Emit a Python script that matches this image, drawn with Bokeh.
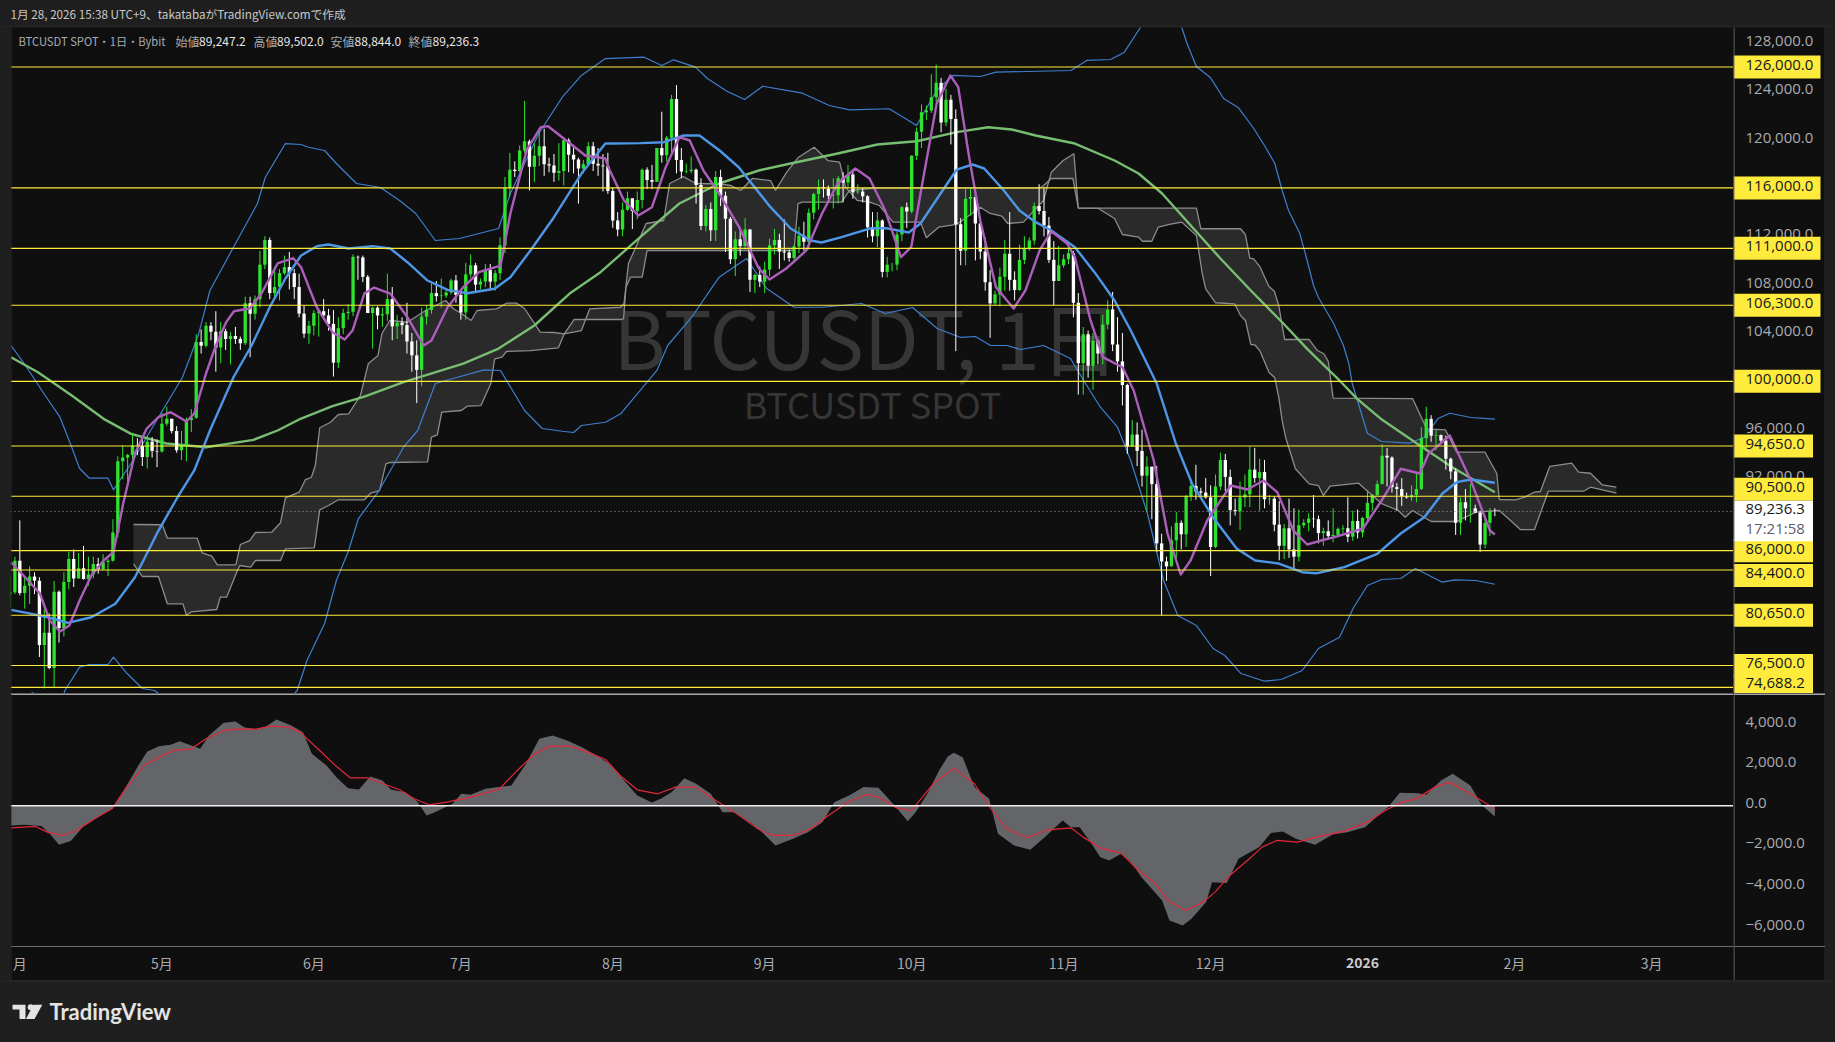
from bokeh.core.properties import value
from bokeh.embed import file_html
from bokeh.layouts import column, row
from bokeh.models import ColumnDataSource, GlobalInlineStyleSheet, Label, Range1d, Span
from bokeh.plotting import figure
from bokeh.resources import INLINE

############################
#     BTCUSDT daily data   #
############################

# day 0 = 2025-04-01, first candle is 03-31
first_day = -1
first_open = 82400

closes = [
    82550,
    85170, 82500, 83100, 83850, 83500, 78200, 79200, 76300, 82600, 79600, 83400, 85300, 83700, 84550, 83650,
    84030, 84900, 84450, 85050, 85170, 87500, 93400, 93700, 93900, 94700, 94650, 93750, 95000, 94250, 94200,
    96500, 96900, 95900, 94300, 94750, 96800, 97000, 103250, 102950, 104600, 104100, 102800, 104150, 103500, 103750, 103500,
    103150, 106450, 105600, 106800, 109650, 111700, 107300, 107800, 108950, 109450, 108950, 107800, 105600, 103950, 104600,
    105650, 105800, 105450, 104750, 101550, 104400, 105650, 105750, 110300, 110250, 108650, 105650, 106100, 105450, 105550,
    106800, 104550, 104850, 104650, 103300, 102150, 100950, 105350, 105900, 107300, 107050, 107100, 107350, 108350, 107150,
    105700, 108850, 109600, 108000, 108250, 109200, 108250, 108950, 111250, 116000, 117500, 117400, 119100, 119850, 117750, 118650,
    119450, 117950, 117850, 117250, 117400, 119950, 118750, 118350, 117600, 117950, 119450, 118000, 117850, 117800, 115750,
    113300, 112550, 114200, 115150, 114100, 115000, 117500, 116650, 116500, 119300, 118700, 120150, 123350, 118300, 117350, 117400,
    117500, 116250, 112850, 114250, 112500, 116900, 115350, 113450, 110100, 111750, 111200, 112550, 108400, 108800, 108250,
    109250, 111250, 111700, 110750, 110650, 110200, 111150, 112050, 111550, 113950, 115500, 116050, 115950, 115350, 115400,
    116800, 116450, 117100, 115650, 115700, 115300, 112750, 112000, 113300, 109050, 109650, 109650, 112150, 114400, 114050,
    118650, 120650, 122250, 122400, 123500, 124700, 121400, 123300, 121700, 113000, 110800, 115100, 115250, 113050, 110750, 108200,
    106450, 107200, 108650, 110550, 108400, 107550, 110050, 111000, 111650, 114500, 114100, 112900, 110050, 108300, 109600,
    110100, 110600, 106500, 101500, 103900, 101300, 103350, 102300, 104700, 105950, 103050, 101650, 99700, 94600, 95600,
    94250, 92200, 92950, 91500, 86600, 85100, 84700, 86850, 88300, 87350, 90500, 91350, 90900, 90800, 90400,
    86300, 91300, 93500, 92100, 89350, 89250, 90400, 90650, 92700, 92000, 92500, 90250, 90300, 88150, 86400, 87850,
    86100, 85500, 88100, 88300, 88650, 88600, 87450, 87600, 87200, 87300, 87800, 87850, 87150, 88450, 87500,
    88700, 89950, 90600, 91500, 93850, 93700, 91250, 91100, 90500, 90400, 90600, 91100, 95300, 96900, 95500, 95550,
    95100, 93600, 92550, 88300, 90000, 89500, 89500, 89150, 86500, 88300, 89247.2, 89236.3,
]

highs = [
    83900,
    85500, 88500, 83900, 84700, 84200, 83800, 81200, 80800, 83500, 82700, 84200, 85900, 86100, 85800, 86400,
    85500, 85500, 85400, 85700, 85300, 88600, 93800, 94700, 94000, 95700, 95300, 95300, 95500, 95400, 95200,
    97400, 97900, 96900, 96300, 95900, 97000, 97700, 103900, 104300, 104900, 104900, 105800, 104900, 104350, 104100, 104500,
    103700, 107000, 107000, 107100, 110800, 112000, 111900, 109500, 109300, 110400, 110700, 109300, 108900, 106300, 105000,
    105900, 105950, 106800, 106000, 105900, 105300, 106000, 106400, 110500, 110400, 110400, 108800, 106200, 106200, 106100,
    108900, 107800, 105500, 105300, 106500, 104000, 103400, 106100, 106300, 108100, 108300, 108500, 107600, 108500, 108800,
    107500, 109800, 110500, 109800, 108500, 109700, 109700, 109200, 111900, 116900, 118900, 118200, 119500, 123200, 120000, 119700,
    120900, 120900, 118500, 118800, 119700, 120200, 120100, 119500, 118500, 118300, 119800, 119800, 119300, 118800, 118900,
    116000, 114000, 114800, 115700, 115100, 115700, 117600, 117700, 117900, 119300, 122300, 120300, 123700, 124500, 119300, 118000,
    118600, 117600, 116800, 114600, 114800, 117400, 117500, 115700, 113600, 112400, 112600, 113500, 112600, 108900, 109500,
    109900, 111800, 112600, 112200, 113400, 110900, 111300, 112800, 113200, 114300, 115600, 116700, 116700, 116200, 116800,
    117000, 117300, 117900, 117500, 116300, 116000, 115400, 114000, 114000, 113400, 110300, 109800, 112400, 114500, 114800,
    118700, 121000, 122900, 122800, 125400, 126200, 125100, 124200, 123700, 122500, 113500, 115900, 115900, 115600, 113600, 111900,
    109200, 107500, 109400, 111700, 114000, 109100, 111300, 112000, 111900, 114800, 116300, 116000, 113600, 111600, 111200,
    110500, 111200, 110800, 107300, 104500, 104200, 104000, 103500, 105500, 106700, 107400, 105300, 104000, 99800, 96800,
    96600, 96000, 93800, 92700, 93000, 87400, 85500, 88000, 89200, 88500, 90600, 91900, 93100, 91200, 92000,
    91400, 92300, 94100, 94000, 92700, 90300, 91700, 92300, 94600, 94500, 93600, 93500, 90600, 90500, 90100, 88200,
    90300, 89500, 89400, 88600, 89100, 90600, 88900, 87900, 88500, 89500, 87900, 88100, 90400, 89300, 89400,
    88800, 90900, 90700, 91800, 94800, 94500, 93800, 91600, 92000, 90800, 91400, 92400, 96200, 97900, 97200, 96000,
    95600, 95500, 93700, 92800, 90400, 91100, 91500, 89800, 89300, 88900, 89500, 89502,
]

lows = [
    81300,
    82400, 82300, 81200, 81600, 82400, 77200, 74600, 76200, 74700, 78400, 78900, 82800, 83000, 83700, 83600,
    83100, 83700, 84100, 84400, 83900, 85100, 87100, 91900, 91600, 92800, 93900, 93000, 92800, 93700, 92900,
    94100, 96300, 95700, 94100, 93500, 93400, 95800, 96900, 102300, 102800, 103400, 100800, 101500, 102600, 101400, 103100,
    102600, 103000, 102000, 105100, 106100, 109300, 106800, 106900, 106700, 108800, 107600, 106800, 105300, 103600, 103100,
    103800, 103700, 105100, 104200, 100400, 101100, 103900, 105100, 105400, 108400, 108200, 105700, 102700, 104300, 104500,
    105000, 103400, 103500, 103900, 102300, 100800, 98200, 99600, 104700, 105600, 106600, 106100, 106900, 107200, 106500,
    105100, 105100, 108600, 107300, 107600, 107800, 107500, 107500, 108400, 110600, 115300, 116900, 117300, 118900, 115800, 116500,
    117800, 117000, 117300, 116500, 116600, 116200, 117300, 117200, 114700, 117200, 117800, 117400, 117000, 115700, 115500,
    112700, 112000, 112000, 114100, 112600, 113400, 114300, 115900, 115900, 116500, 118100, 118200, 118900, 117200, 116800, 117200,
    117200, 114700, 112500, 112400, 111600, 111600, 114500, 110700, 109700, 108700, 110400, 110900, 107400, 107300, 107800,
    107300, 108700, 110500, 109300, 110000, 109900, 110000, 110600, 110800, 110900, 113400, 114200, 115200, 114800, 114300,
    114700, 114800, 116000, 115100, 115500, 114800, 111900, 111500, 111100, 108600, 108600, 109100, 109200, 111600, 112700,
    113900, 118300, 119300, 121600, 122200, 123100, 120600, 121100, 119600, 102500, 109600, 109600, 113700, 110000, 110100, 107500,
    103600, 106300, 106200, 107500, 107500, 106700, 107500, 109700, 110800, 111300, 113800, 112000, 109800, 106300, 108300,
    109400, 109700, 105300, 98900, 98900, 100300, 99300, 101400, 101400, 104300, 102500, 100800, 98000, 94000, 94600,
    93000, 91300, 89300, 88600, 85900, 80650, 83500, 84700, 85300, 86100, 86300, 90100, 90200, 90300, 90300,
    83900, 86200, 91000, 90900, 88100, 88900, 87700, 89600, 89600, 91600, 89300, 89500, 89800, 87600, 85200, 85300,
    85400, 84500, 85100, 87900, 87600, 87900, 86600, 86400, 86900, 86700, 87200, 87400, 86700, 86800, 87000,
    87100, 88300, 89300, 90500, 91500, 91300, 90800, 89300, 89700, 90300, 90100, 90000, 91000, 94500, 95000, 94300,
    94900, 92700, 91900, 87300, 87300, 88500, 88300, 89100, 85900, 86200, 87200, 88844,
]

bb_mid_days = [-0.8, 2.7, 6.7, 10.8, 15.6, 20.5, 24.5, 29.3, 33.4, 36.6, 39.8, 44.6, 48.3, 52, 55.2, 58.4, 61.6, 64,
               68.1, 73, 76.6, 80.1, 84.2, 88.3, 92.3, 97.9, 101.1, 105.2, 110, 115.6, 120.5, 122, 127.7, 132.4,
               136.5, 139.7, 143.8, 147.7, 154.2, 158.3, 162.4, 164.6, 168.7, 174.4, 177.7, 182.4, 184.8, 188.9,
               192.2, 195.4, 197.8, 201.8, 205, 208.3, 211.5, 216.3, 220.3, 224.4, 227.7, 233, 236.9, 240.2, 244.5,
               249.3, 253.1, 257.9, 262.7, 265.6, 271.3, 278, 282.8, 287.6, 291.3, 294.2, 297.1, 302]
bb_mid = [81105, 80825, 80490, 80030, 80490, 81600, 83800, 87660, 90560, 92630, 95935, 100340, 102965, 106130, 108505,
          110410, 111180, 111320, 110990, 111180, 110990, 109855, 108340, 107570, 107290, 107655, 108615, 110825,
          113575, 117190, 119670, 119670, 119700, 119780, 120335, 120335, 119095, 117710, 114405, 112640, 111650,
          111485, 111925, 112640, 112670, 112310, 113055, 115535, 117520, 117935, 117605, 115785, 114130, 113165,
          112475, 111095, 109030, 106685, 104205, 99820, 94860, 91550, 88765, 86175, 85185, 84935, 84215, 84130,
          84630, 85735, 87415, 88765, 90725, 91660, 91880, 91610]

bb_upper_days = [-0.8, 1.9, 5.9, 9.2, 11.6, 13.2, 15.2, 19, 20.1, 23.7, 29.3, 34.2, 37.4, 39.8, 44.6, 49.5, 51.1, 55.2,
                 58.4, 59.9, 63.2, 65.6, 69.7, 74.6, 78.5, 81.8, 85.8, 90.7, 93.9, 98.7, 101.1, 106.9, 111.7, 115.6,
                 120.5, 128.4, 132, 134.4, 138.9, 141.3, 145.3, 148.9, 152.6, 160.7, 166.2, 170.3, 178.4, 181.7, 184,
                 188.1, 191.4, 197, 200.2, 215.5, 218.7, 223.6, 226.4, 229.7, 233, 236, 238.1, 239.2, 241.1, 244,
                 246.7, 249.7, 252.8, 255.2, 257.1, 258.6, 259.9, 262.2, 263.7, 265, 266, 269.1, 271.1, 272.2, 272.9,
                 275.2, 276, 278.9, 284.6, 287.6, 290.4, 292.8, 297.1, 302]
bb_upper = [102965, 101475, 98995, 97035, 94555, 92790, 91990, 91990, 91030, 93205, 97035, 100340, 103790, 107515,
            111095, 114710, 116885, 119670, 119590, 119365, 119095, 118020, 116365, 116035, 114960, 113885, 111650,
            111815, 112145, 112640, 115535, 120500, 123500, 125300, 126700, 126810, 126125, 126595, 125985, 125050,
            124000, 123310, 124410, 123835, 122815, 122460, 122545, 121740, 121160, 124055, 125300, 125215, 125570,
            125710, 126540, 126620, 127225, 129290, 131000, 131000, 129290, 127920, 126040, 125105, 123370, 122625,
            120915, 119365, 118020, 115785, 114130, 112230, 109995, 107930, 106935, 104785, 102965, 101475, 99820,
            96760, 95685, 95025, 94885, 95380, 96925, 97365, 97010, 96870]

bb_lower_days = [-1, 3.6, 6, 9.5, 10.2, 13.2, 15.2, 19, 20.1, 22.9, 26, 28.5, 29.9, 40, 50, 57.6, 59.6, 63.2, 65.6, 68.1,
                 70.1, 74.1, 79.3, 82.2, 85.8, 89.4, 95.8, 99.1, 104, 107.6, 111.7, 114, 115.6, 120.5, 123.6, 131,
                 133.2, 138.1, 143.7, 149.3, 153.4, 159, 164.7, 172.8, 177.6, 183.2, 188.2, 193, 196, 199.1, 202.5,
                 205.2, 209.9, 215.4, 218.1, 221.5, 225, 227.7, 231.1, 234.4, 237.3, 241.1, 244.5, 246.9, 250.2, 255,
                 258.4, 262.7, 266, 270.3, 273.2, 276, 278.9, 282.8, 285.8, 291.3, 293.8, 298.1, 302]
bb_lower = [73300, 74250, 73800, 73500, 74430, 76360, 76580, 76580, 77185, 75835, 74595, 74430, 74000, 70000, 71000,
            74430, 76910, 79970, 83530, 86010, 88655, 90830, 94555, 95935, 99820, 100235, 100955, 100900, 97590, 96100,
            95875, 95770, 96350, 96620, 97315, 100900, 102965, 105305, 108615, 110160, 107680, 106130, 106130, 106440,
            105610, 106110, 104370, 103630, 103710, 102965, 102965, 102635, 102965, 101890, 100070, 97860, 96210,
            93455, 89070, 83530, 80635, 79805, 77905, 77325, 75835, 75200, 75340, 76085, 77905, 78840, 81320, 83115,
            83610, 83695, 84520, 83390, 83585, 83530, 83220]

ma_long_days = [-0.8, 4.7, 11.6, 18.1, 23.7, 30.9, 39, 48.7, 53.6, 58.4, 64.8, 71.3, 79.3, 91.5, 98.7, 106, 113.2, 119.5,
                127.6, 135.6, 143.7, 151.8, 158.3, 167.9, 176, 184, 192.2, 198.6, 203.4, 208.3, 216.3, 224.4, 229.3,
                234.1, 240.5, 246, 252.2, 258.6, 263.7, 270.5, 273.9, 279, 286.7, 293.3, 302]
ma_long = [102000, 100755, 98830, 96900, 95660, 94860, 94555, 95165, 95935, 96925, 97945, 98745, 99930, 101475, 102715,
           104620, 107265, 109030, 111925, 114710, 116365, 117440, 118020, 118845, 119590, 119860, 120610, 121020,
           120830, 120335, 119670, 118265, 117190, 115535, 112640, 110160, 107515, 104890, 102690, 99990, 98555, 96820,
           94695, 92900, 90830]

ma_fast_days = [-0.8, 2.7, 5.1, 7.1, 9.2, 11.1, 13.2, 15.6, 18.1, 20.1, 22.1, 24.5, 26.9, 29.3, 31.8, 35, 36.6, 39, 41,
                43.1, 44.7, 47.9, 50.3, 53.6, 56.8, 58.4, 61.6, 64.8, 67.3, 68.9, 71.3, 73.3, 76.6, 80.1, 83.4, 85,
                88.3, 91.5, 94.7, 99.1, 101.1, 104.4, 107.3, 108.8, 113.3, 116.4, 120.5, 121.1, 124.3, 127.2, 130,
                132.8, 135.6, 137.7, 140.5, 143.7, 147.8, 151.8, 154, 157.4, 161.5, 164.7, 167.9, 171.5, 174.4, 177.6,
                180.8, 182.9, 184.8, 188.1, 190.9, 192.5, 194.6, 197, 200.2, 203.8, 206.2, 209.1, 211.5, 214.7, 216.3,
                219.5, 222, 226, 228.3, 232.4, 235.2, 237.9, 239.9, 243.3, 248.1, 251.5, 254.8, 257.6, 260.9, 263.7,
                266.5, 269.3, 275.1, 278.9, 282.8, 286.7, 288.5, 292.8, 297.1, 301, 302]
ma_fast = [85040, 83530, 82455, 80220, 79310, 79805, 81875, 83940, 85185, 85870, 89895, 94030, 96100, 97035, 97450,
           96680, 97340, 100650, 102965, 104890, 105800, 106025, 107265, 109750, 110185, 109440, 106130, 104065,
           103460, 104205, 107265, 107760, 107265, 105305, 102965, 103380, 106130, 107785, 109030, 109580, 113885,
           119095, 121020, 121105, 119670, 118680, 118430, 117710, 114960, 113720, 114405, 117710, 120195, 119920,
           117440, 115535, 112750, 109335, 108425, 109335, 110825, 113885, 116365, 117605, 116780, 114130, 110270,
           111095, 115535, 122980, 125300, 124330, 118845, 113305, 107785, 106025, 107515, 110825, 112420, 111400,
           110270, 105035, 102000, 101170, 99245, 93455, 87415, 84025, 85185, 88490, 91385, 91055, 91800, 90830,
           87660, 86505, 86835, 87110, 87830, 90145, 92770, 92380, 94030, 95520, 91800, 87660, 87330]

span_a_days = [24.2, 30.1, 31.1, 37.2, 38.2, 40.2, 41.3, 45.1, 46, 47.9, 49.1, 52.4, 54.2, 55.2, 58, 59.3, 60.5, 61.3,
               62.2, 64.4, 66, 68.1, 70.5, 72.1, 74.1, 74.9, 76.5, 80.1, 83.8, 87.9, 89.4, 91.1, 93.1, 94.3, 98.3,
               100.3, 102.4, 104, 107.2, 110, 112.1, 115.6, 117.3, 123.6, 124.3, 125.2, 126.4, 128.8, 132.4, 133.6,
               136.4, 138.9, 143.7, 146.1, 148.1, 150.5, 154.2, 155.2, 157.5, 159.9, 163.1, 165.9, 168.3, 169.5,
               171.9, 174.4, 176.4, 179.2, 184.8, 186, 188.5, 192.2, 197, 199, 201.4, 202.6, 205.8, 209.9, 211.5,
               213.9, 216.1, 217, 221.1, 224.4, 226, 229.3, 230.1, 232, 233.3, 235.6, 238.1, 241.1, 242.3, 243, 245,
               248.9, 250.1, 251.1, 252.2, 253, 254.1, 255.9, 257.1, 257.9, 258.6, 259.3, 261.3, 264.1, 266, 267,
               268.4, 274.2, 276.6, 278.9, 282.3, 283.7, 285.2, 289, 294.2, 298.1, 302.9, 304.8, 307.2, 310.1, 312.9,
               320.1, 321.5, 326.8]
span_a = [88160, 88140, 87030, 87030, 85820, 85540, 84825, 84825, 86505, 86835, 87500, 87525, 88300, 90370, 90830, 91880,
          92070, 93040, 96160, 96620, 97260, 97315, 98830, 101450, 102140, 103960, 105035, 104890, 105860, 106685,
          106025, 105610, 105035, 105860, 106000, 106465, 106465, 106025, 104065, 104040, 103930, 104205, 106000,
          106130, 106440, 109750, 110825, 113055, 113305, 116365, 116945, 116365, 116340, 116200, 115785, 116780,
          116610, 115785, 117300, 118540, 119365, 118265, 118125, 116060, 114960, 114820, 114545, 113165, 113165,
          111875, 112750, 112975, 114405, 113885, 113660, 113055, 113165, 114960, 117300, 118265, 118820, 114320,
          114300, 113470, 112145, 111925, 111590, 111590, 112750, 112975, 113170, 112065, 108895, 107655, 106500,
          106415, 105445, 105035, 103050, 103025, 102495, 100755, 100295, 98690, 96760, 95380, 92770, 91525, 91385,
          90560, 91330, 91575, 90700, 89895, 89320, 88765, 89320, 88410, 88410, 89180, 89320, 88630, 87745, 87745,
          90915, 90915, 91245, 90750]

span_b_days = [24.2, 26, 29.3, 31.1, 34.3, 35, 36, 41.2, 41.9, 43.2, 45.4, 45.9, 48.1, 49.1, 54.2, 55.2, 61.1, 62.2, 64,
               66, 71.3, 72.6, 74.4, 75.7, 76.6, 84.2, 85, 86.2, 87.1, 91.1, 92.3, 95.1, 97.1, 97.9, 99.4, 100.3,
               105.2, 110.9, 112.1, 114.1, 123.6, 124.2, 124.7, 125.6, 128, 129, 159, 159.8, 160.7, 168.7, 170.3,
               174.4, 176, 209.1, 209.9, 211.5, 215.9, 217, 241.1, 242, 250.1, 251.1, 252, 252.8, 254.1, 255.9, 257,
               257.9, 259.1, 264.1, 265.8, 267.1, 268, 269, 285.2, 288.1, 291.9, 294.2, 300, 302.4, 302.9, 306.2,
               308.1, 310, 311.3, 313.2, 317.7, 319.1, 321.5, 323.9, 326.8]
span_b = [84910, 83860, 83860, 81600, 81600, 80660, 80940, 81130, 82150, 82150, 84355, 84770, 84630, 85185, 85185, 86150,
          86235, 89375, 89730, 90205, 90205, 90750, 90970, 93180, 93290, 93345, 95380, 95580, 97450, 97590, 97945,
          98000, 99800, 101865, 102000, 102470, 102550, 102775, 103930, 105115, 105115, 105175, 107785, 108615,
          108615, 110825, 110825, 114710, 114820, 114820, 115785, 115950, 115975, 115975, 116200, 116780, 116780,
          114320, 114320, 112620, 112620, 112145, 110185, 110135, 109440, 107845, 107455, 106275, 103460, 103460,
          102550, 102280, 101665, 98610, 98580, 96075, 95995, 94140, 94140, 92380, 90230, 90205, 90420, 90830, 90890,
          92960, 93230, 92485, 92400, 91445, 91245]

macd_days = [-0.8, 2, 5.4, 7.2, 9, 11.4, 13.8, 16.8, 19.8, 21, 22.8, 25.2, 27, 29.4, 31.8, 33.6, 36, 37.8, 39.6, 42.6,
             45, 46.8, 49.2, 51, 53.4, 56.4, 58.8, 60.6, 63.6, 65.6, 68, 70.2, 72.5, 75, 76.7, 79.7, 82.1, 84, 85.7,
             89.3, 91.1, 93, 96, 98.7, 101.3, 104.3, 107, 109.7, 112.7, 115.7, 119.3, 121.7, 124, 127, 130, 131.8,
             134, 136.6, 139, 142, 144.4, 146.8, 150.4, 152.8, 155.2, 158.8, 161.8, 164.8, 167.2, 170.2, 173.2,
             176.2, 179.2, 182.2, 183.8, 186.2, 188.6, 190.4, 191.6, 193.4, 195.8, 198.8, 200.6, 203.9, 207.2, 210.2,
             213.8, 215.5, 217.3, 219.7, 221.5, 223.3, 225.7, 227.5, 229.9, 232.3, 234.1, 235.6, 238.3, 240.1, 243.1,
             244.3, 247.3, 249.7, 251.5, 253.9, 256.3, 258.7, 261.4, 265.3, 268.9, 271.9, 275.5, 277.8, 280.2, 282.6,
             286.2, 288, 291, 293.4, 297, 299.4, 302]
macd = [-969, -936, -1000, -1396, -1921, -1740, -1051, -591, -148, 263, 1002, 1987, 2676, 2939, 3005, 3185, 2972, 2808,
        3465, 4089, 4154, 3875, 3760, 3875, 4253, 3957, 3629, 2562, 1987, 1412, 870, 805, 1445, 1248, 805, 673, 213,
        -476, -312, 99, 591, 542, 837, 920, 1002, 2069, 3300, 3465, 3218, 2890, 2397, 1987, 1330, 509, 164, 345, 673,
        1363, 1084, 591, -312, -312, -887, -1379, -1954, -1626, -1297, -805, 180, 509, 920, 887, 99, -755, -312, 591,
        1740, 2447, 2611, 2397, 920, 345, -1379, -1954, -2167, -1543, -722, -1051, -1051, -1872, -2529, -2693, -2364,
        -2693, -3514, -4171, -4663, -5648, -5895, -5566, -4745, -3760, -3809, -2611, -2364, -2036, -1346, -1264, -1625,
        -1921, -1412, -1297, -1051, -558, -66, 640, 624, 542, 1248, 1576, 1002, 16, -525, -640]

signal_days = [-0.8, 4.2, 6.6, 9.6, 12.6, 16.2, 19.8, 22.8, 26.4, 29.4, 32.4, 36, 39, 42.6, 45.6, 49.2, 52.2, 55.8, 58.2,
               61.8, 65.4, 68.4, 71.9, 78.5, 81.5, 84.5, 88.1, 93, 98.9, 102.5, 106.1, 109.1, 113.3, 116.9, 120.5, 123.5,
               127, 131.2, 134.8, 139, 142, 146.8, 151.6, 154.6, 158.8, 162.4, 166, 170.2, 173.8, 176.2, 179.8, 182.8,
               183.8, 187.4, 191.6, 195.8, 199.4, 202.4, 206.6, 210.8, 215.5, 218, 221.5, 225.7, 229.3, 232.7, 235.3,
               238.9, 242.5, 244.9, 247.9, 251.5, 254.5, 257.5, 261.7, 266.5, 271.3, 276, 279.6, 282.6, 286.2, 289.8,
               292.8, 297, 302]
signal = [-1084, -1018, -1297, -1461, -1215, -640, -148, 920, 1987, 2397, 2726, 2808, 3300, 3711, 3793, 3777, 3924, 3875,
          3629, 2808, 1987, 1379, 1379, 788, 345, 49, 181, 427, 837, 1741, 2562, 2939, 2939, 2644, 2282, 1494, 788, 591,
          920, 920, 427, -312, -1133, -1461, -1461, -1133, -476, 213, 558, 427, -99, -230, 16, 1084, 1855, 1084, -230,
          -1133, -1576, -1182, -1084, -1543, -2069, -2332, -3185, -3842, -4663, -5156, -4745, -4253, -3432, -2693, -2036,
          -1708, -1790, -1494, -1248, -805, -230, 131, 378, 920, 1166, 591, -148]

level_prices = [126000, 116000, 111000, 106300, 100000, 94650, 90500, 86000, 84400, 80650, 76500, 74688.2]
level_texts = ["126,000.0", "116,000.0", "111,000.0", "106,300.0", "100,000.0", "94,650.0", "90,500.0", "86,000.0",
               "84,400.0", "80,650.0", "76,500.0", "74,688.2"]
# where each price tag sits on the scale: tags around the last price are pushed aside
tag_prices = [126000, 116000, 111000, 106300, 100000, 94650, 91080, 86000, 83945, 80650, 76500, 74888]
last_price = 89236.3
last_tag_center = 88450
price_ticks = [128000, 124000, 120000, 112000, 108000, 104000, 96000, 92000]
macd_ticks = [4000, 2000, 0, -2000, -4000, -6000]
month_days = [1, 30, 61, 91, 122, 153, 183, 214, 244, 306, 334]
month_names = ["月", "5月", "6月", "7月", "8月", "9月", "10月", "11月", "12月", "2月", "3月"]
year_day = 275

BG = "#1f1f1f"
PANE = "#0f0f0f"
GRAY = "#a9abb2"
SEP = "#6f6f6f"
EDGE = "#2e2e2e"
JP = "Noto Sans CJK JP"
NUM = "Open Sans"

X_RANGE = (-0.9, 350.7)
MAIN_Y = Range1d(74183, 129267)
SUB_Y = (-8606, 5532)
SUB_TIME_LINE = -6931
SUB_TIME_TEXT = -7818


def pane(width, height, x_range, y_range, left=0, right=0, bg=PANE):
    p = figure(width=width, height=height, x_range=x_range, y_range=y_range, x_axis_location=None,
               y_axis_location=None, toolbar_location=None, output_backend="svg", background_fill_color=bg,
               border_fill_color=bg, outline_line_color=None, min_border=0, margin=(0, right, 0, left))
    p.grid.visible = False
    return p


def screen_label(p, x, y, text, font, size, color, **kw):
    p.add_layout(Label(x=x, y=y, x_units="screen", y_units="screen", text=text, text_font=font,
                       text_font_size=size, text_color=color, text_baseline="middle", **kw))


def edge(p, location, dimension="height", color=EDGE):
    p.add_layout(Span(location=location, dimension=dimension, line_color=color, line_width=1))


############################
#         top pane         #
############################

days = [first_day + i for i in range(len(closes))]
opens = [first_open] + closes[:-1]
candles = ColumnDataSource(dict(
    x=days, open=opens, close=closes, high=highs, low=lows,
    color=["#2fe22f" if c >= o else "#ffffff" for o, c in zip(opens, closes)],
))

main = pane(1723, 666, Range1d(*X_RANGE), MAIN_Y, left=10)

screen_label(main, 856, 693 - 334, "BTCUSDT, 1日", JP, "80px", "#363636", text_align="center", level="underlay")
screen_label(main, 862, 693 - 402, "BTCUSDT SPOT", JP, "36px", "#363636", text_align="center", level="underlay")

main.patch(span_a_days + span_b_days[::-1], span_a + span_b[::-1], color="#2a2a2a", line_color=None)
main.line(span_a_days, span_a, color="#8c8c8c", line_width=1.3)
main.line(span_b_days, span_b, color="#8c8c8c", line_width=1.3)
main.line(bb_upper_days, bb_upper, color="#3f7fd0", line_width=1.2, line_join="round")
main.line(bb_lower_days, bb_lower, color="#3f7fd0", line_width=1.2, line_join="round")
main.line(ma_long_days, ma_long, color="#78bd72", line_width=2.4, line_join="round")

main.segment("x", "low", "x", "high", color="color", line_width=1, source=candles)
main.vbar("x", width=0.68, top="open", bottom="close", fill_color="color", line_color=None, source=candles)

main.line(bb_mid_days, bb_mid, color="#4c97e8", line_width=2.4, line_join="round")
main.line(ma_fast_days, ma_fast, color="#ab5fbb", line_width=2.4, line_join="round")

main.add_layout(Span(location=last_price, dimension="width", line_color="#9c9c9c", line_width=1, line_dash="1 3"))
for price in level_prices:
    main.add_layout(Span(location=price, dimension="width", line_color="#ffeb3b", line_width=1.1))
edge(main, X_RANGE[0] + 0.1)

legend_items = [
    (8, "BTCUSDT SPOT・1日・Bybit", GRAY, "11.2px"), (165, "始値", GRAY, "12px"), (188.5, "89,247.2", "#e6e6e6", "12px"),
    (243, "高値", GRAY, "12px"), (266.5, "89,502.0", "#e6e6e6", "12px"), (320, "安値", GRAY, "12px"),
    (344, "88,844.0", "#e6e6e6", "12px"), (398, "終値", GRAY, "12px"), (422, "89,236.3", "#e6e6e6", "12px"),
]
for lx, text, color, size in legend_items:
    screen_label(main, lx, 693 - 40.5, text, JP, size, color)

# price scale next to the top pane
side = pane(92, 666, Range1d(0, 92), MAIN_Y, right=8)
side.text([12] * len(price_ticks), price_ticks, text=[f"{t:,.1f}" for t in price_ticks], text_font=value(NUM),
          text_font_size="15px", text_color=GRAY, text_baseline="middle", y_offset=-2)
side.rect([87 / 2 if len(t) == 9 else 79.5 / 2 for t in level_texts], tag_prices,
          width=[87 if len(t) == 9 else 79.5 for t in level_texts], height=23, height_units="screen",
          color="#ffeb3b", line_color=None)
side.text([12] * len(tag_prices), tag_prices, text=level_texts, text_font=value(NUM), text_font_size="15px",
          text_color="#131722", text_baseline="middle", y_offset=-2)
side.rect([79.5 / 2], [last_tag_center], width=79.5, height=40.5, height_units="screen", color="#ffffff", line_color=None)
screen_label(side, 12, 693 - 508.7, "89,236.3", NUM, "15px", "#131722")
screen_label(side, 12, 693 - 527.3, "17:21:58", NUM, "15px", "#5d606b")
edge(side, 0.5, color=SEP)
edge(side, 91.5)

############################
#       bottom pane        #
############################

sub = pane(1723, 287, Range1d(*X_RANGE), Range1d(*SUB_Y), left=10)
sub.varea(macd_days, y1=[0] * len(macd), y2=macd, color="#636569")
sub.line(signal_days, signal, color="#e2283c", line_width=1.2, line_join="round")
sub.add_layout(Span(location=0, dimension="width", line_color="#f0f0f0", line_width=1.6))
edge(sub, SUB_TIME_LINE, "width", SEP)
sub.add_layout(Span(location=SUB_Y[1] - 20, dimension="width", line_color="#d8d8d8", line_width=1.5))
sub.text(month_days, [SUB_TIME_TEXT] * len(month_days), text=month_names, text_font=value(JP), text_font_size="14px",
         text_color=GRAY, text_align="center", text_baseline="middle", y_offset=-2)
sub.text([year_day], [SUB_TIME_TEXT], text=["2026"], text_font=value(JP), text_font_size="14px", text_font_style="bold",
         text_color="#c8cad0", text_align="center", text_baseline="middle", y_offset=-2)
edge(sub, X_RANGE[0] + 0.1)

sub_side = pane(92, 287, Range1d(0, 92), Range1d(*SUB_Y), right=8)
sub_side.text([12] * len(macd_ticks), macd_ticks, text=[f"{t:,.1f}".replace("-", "−") for t in macd_ticks],
              text_font=value(NUM), text_font_size="15px", text_color=GRAY, text_baseline="middle", y_offset=-3)
edge(sub_side, 0.5, color=SEP)
edge(sub_side, 91.5)
edge(sub_side, SUB_TIME_LINE, "width", SEP)
sub_side.add_layout(Span(location=SUB_Y[1] - 20, dimension="width", line_color="#d8d8d8", line_width=1.5))

############################
#     header and footer    #
############################

head = pane(1833, 27, Range1d(0, 1833), Range1d(27, 0), bg=BG)
screen_label(head, 10, 14, "1月 28, 2026 15:38 UTC+9、takatabaがTradingView.comで作成", JP, "11.7px", "#c8c8c8")
edge(head, 26.5, "width")

foot = pane(1833, 60, Range1d(0, 1833), Range1d(1040, 980), bg=BG)
logo = "#e4e4e4"
foot.patch([12, 25, 25, 19, 19, 12], [1004.3, 1004.3, 1018.5, 1018.5, 1009, 1009], color=logo, line_color=None)
foot.scatter([30.2], [1006.8], size=6, color=logo, line_color=None)
foot.patch([33, 41.8, 34, 25.5], [1004.3, 1004.3, 1018.5, 1018.5], color=logo, line_color=None)
screen_label(foot, 49, 1040 - 1010.5, "TradingView", "Lato", "22px", logo, text_font_style="bold")
edge(foot, 980.5, "width")

page = column(head, row(main, side, spacing=0), row(sub, sub_side, spacing=0), foot, spacing=0,
              stylesheets=[GlobalInlineStyleSheet(css="html,body{background:#1f1f1f;}")])

open("out.html", "w").write(file_html(page, INLINE))
